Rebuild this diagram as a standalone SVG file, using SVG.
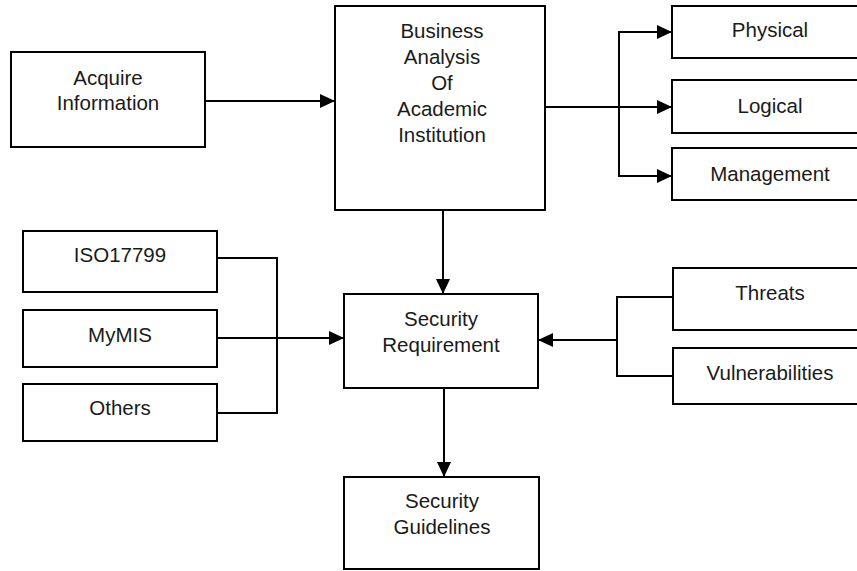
<svg xmlns="http://www.w3.org/2000/svg" width="857" height="571" viewBox="0 0 857 571">
  <style>
    .box { fill: #ffffff; stroke: #000000; stroke-width: 2; }
    .lbl { font-family: "Liberation Sans", Arial, sans-serif; font-size: 20.5px; fill: #1a1a1a; text-anchor: middle; }
    .wire { fill: none; stroke: #000000; stroke-width: 2; }
    .arrow { fill: none; stroke: #000000; stroke-width: 2; marker-end: url(#head); }
  </style>
  <defs>
    <marker id="head" markerUnits="userSpaceOnUse" markerWidth="15" markerHeight="14" refX="15" refY="7" orient="auto">
      <path d="M0,0 L15,7 L0,14 z" fill="#000000"/>
    </marker>
  </defs>
  <rect width="857" height="571" fill="#ffffff"/>

  <g id="connectors">
    <!-- Acquire -> Business Analysis -->
    <line class="arrow" x1="205" y1="101" x2="335" y2="101"/>
    <!-- Business Analysis -> Physical / Logical / Management -->
    <line class="arrow" x1="545" y1="107" x2="672" y2="107"/>
    <line class="wire" x1="619" y1="31" x2="619" y2="177"/>
    <line class="arrow" x1="618" y1="32" x2="672" y2="32"/>
    <line class="arrow" x1="618" y1="176" x2="672" y2="176"/>
    <!-- Business Analysis -> Security Requirement -->
    <line class="arrow" x1="443" y1="210" x2="443" y2="294"/>
    <!-- Standards -> Security Requirement -->
    <polyline class="wire" points="217,258 277,258 277,413 217,413"/>
    <line class="arrow" x1="217" y1="338" x2="344" y2="338"/>
    <!-- Threats / Vulnerabilities -> Security Requirement -->
    <polyline class="wire" points="677,297 617,297 617,376 673,376"/>
    <line class="arrow" x1="618" y1="340" x2="538" y2="340"/>
    <!-- Security Requirement -> Security Guidelines -->
    <line class="arrow" x1="444" y1="388" x2="444" y2="477"/>
  </g>

  <g id="acquire">
    <rect class="box" x="11" y="52" width="194" height="95"/>
    <text class="lbl" x="108" y="85">Acquire</text>
    <text class="lbl" x="108" y="110">Information</text>
  </g>

  <g id="business">
    <rect class="box" x="335" y="6" width="210" height="204"/>
    <text class="lbl" x="442" y="38">Business</text>
    <text class="lbl" x="442" y="64">Analysis</text>
    <text class="lbl" x="442" y="90">Of</text>
    <text class="lbl" x="442" y="116">Academic</text>
    <text class="lbl" x="442" y="142">Institution</text>
  </g>

  <g id="physical">
    <rect class="box" x="672" y="6" width="200" height="52"/>
    <text class="lbl" x="770" y="37">Physical</text>
  </g>

  <g id="logical">
    <rect class="box" x="672" y="80" width="200" height="53"/>
    <text class="lbl" x="770" y="113">Logical</text>
  </g>

  <g id="management">
    <rect class="box" x="672" y="148" width="200" height="52"/>
    <text class="lbl" x="770" y="181">Management</text>
  </g>

  <g id="iso17799">
    <rect class="box" x="23" y="231" width="194" height="61"/>
    <text class="lbl" x="120" y="262">ISO17799</text>
  </g>

  <g id="mymis">
    <rect class="box" x="23" y="310" width="194" height="57"/>
    <text class="lbl" x="120" y="342">MyMIS</text>
  </g>

  <g id="others">
    <rect class="box" x="23" y="384" width="194" height="57"/>
    <text class="lbl" x="120" y="415">Others</text>
  </g>

  <g id="security-requirement">
    <rect class="box" x="344" y="294" width="194" height="94"/>
    <text class="lbl" x="441" y="326">Security</text>
    <text class="lbl" x="441" y="352">Requirement</text>
  </g>

  <g id="threats">
    <rect class="box" x="673" y="268" width="200" height="62"/>
    <text class="lbl" x="770" y="300">Threats</text>
  </g>

  <g id="vulnerabilities">
    <rect class="box" x="673" y="348" width="200" height="56"/>
    <text class="lbl" x="770" y="380">Vulnerabilities</text>
  </g>

  <g id="security-guidelines">
    <rect class="box" x="344" y="477" width="195" height="92"/>
    <text class="lbl" x="442" y="508">Security</text>
    <text class="lbl" x="442" y="534">Guidelines</text>
  </g>
</svg>
